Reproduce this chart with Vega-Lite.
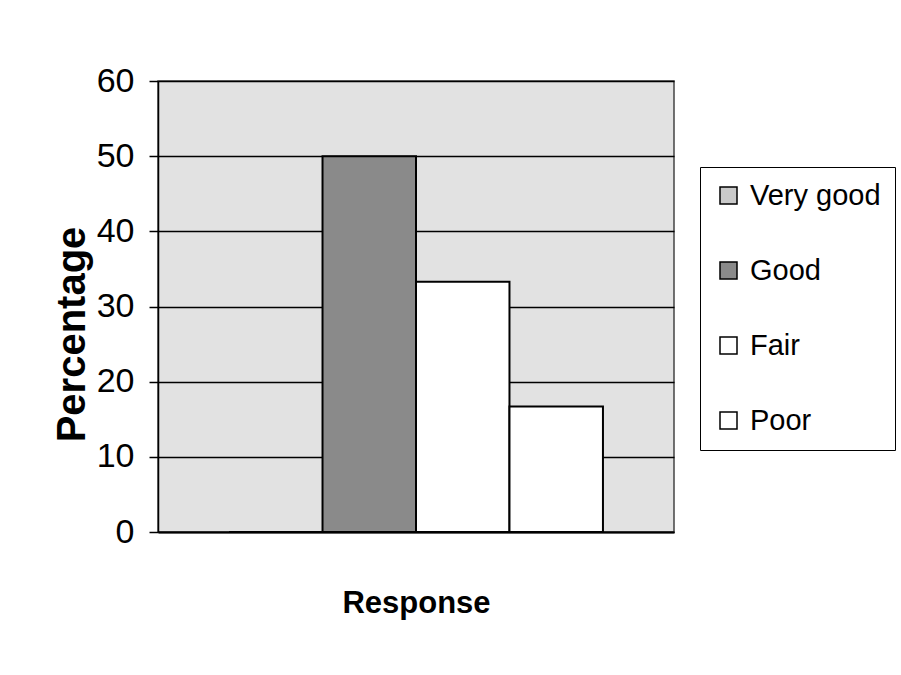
{
  "$schema": "https://vega.github.io/schema/vega-lite/v6.json",
  "autosize": {"type": "none"},
  "padding": {"left": 158, "top": 81, "right": 227, "bottom": 143},
  "width": 516,
  "height": 451,
  "background": "white",
  "data": {
    "values": [
      {"Response": "Very good", "Percentage": 0},
      {"Response": "Good", "Percentage": 50},
      {"Response": "Fair", "Percentage": 33.3},
      {"Response": "Poor", "Percentage": 16.7}
    ]
  },
  "mark": {"type": "bar", "stroke": "black", "strokeWidth": 2},
  "encoding": {
    "x": {
      "field": "Response",
      "type": "nominal",
      "sort": ["Very good", "Good", "Fair", "Poor"],
      "scale": {"paddingInner": 0, "paddingOuter": 0.76},
      "axis": {
        "title": "Response",
        "labels": false,
        "ticks": false,
        "domain": true,
        "domainColor": "black",
        "domainWidth": 2,
        "titleFont": "Liberation Sans",
        "titleFontSize": 31,
        "titleFontWeight": "bold",
        "titleColor": "black",
        "titleBaseline": "alphabetic",
        "titleY": 80
      }
    },
    "y": {
      "field": "Percentage",
      "type": "quantitative",
      "scale": {"domain": [0, 60], "nice": false},
      "axis": {
        "title": "Percentage",
        "values": [0, 10, 20, 30, 40, 50, 60],
        "grid": true,
        "gridColor": "black",
        "gridWidth": 1.5,
        "domainColor": "black",
        "domainWidth": 1.5,
        "tickColor": "black",
        "tickSize": 9,
        "tickWidth": 1.5,
        "labelFont": "Liberation Sans",
        "labelFontSize": 34,
        "labelColor": "black",
        "labelPadding": 15,
        "labelBaseline": "middle",
        "titleFont": "Liberation Sans",
        "titleFontSize": 40,
        "titleFontWeight": "bold",
        "titleColor": "black",
        "titleAngle": -90,
        "titleAlign": "center",
        "titleBaseline": "alphabetic",
        "titleX": -74,
        "titleY": 253
      }
    },
    "color": {
      "field": "Response",
      "type": "nominal",
      "sort": ["Very good", "Good", "Fair", "Poor"],
      "scale": {
        "domain": ["Very good", "Good", "Fair", "Poor"],
        "range": ["#c9c9c9", "#8a8a8a", "#ffffff", "#ffffff"]
      },
      "legend": {
        "title": null,
        "orient": "none",
        "legendX": 542,
        "legendY": 86,
        "fillColor": "white",
        "strokeColor": "black",
        "padding": 14,
        "rowPadding": 45,
        "symbolType": "square",
        "symbolSize": 289,
        "symbolStrokeColor": "black",
        "symbolStrokeWidth": 1.5,
        "symbolOffset": 0,
        "labelFont": "Liberation Sans",
        "labelFontSize": 29,
        "labelColor": "black",
        "labelOffset": 7
      }
    }
  },
  "config": {
    "view": {"fill": "#e2e2e2", "stroke": "#444444", "strokeWidth": 1.5}
  }
}
